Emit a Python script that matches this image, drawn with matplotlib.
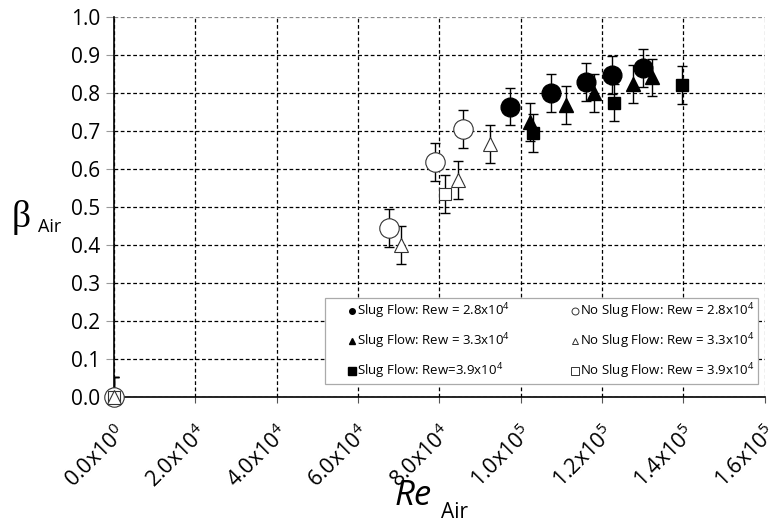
import matplotlib
matplotlib.use("Agg")
import matplotlib.pyplot as plt
from matplotlib.ticker import FixedLocator
from matplotlib.lines import Line2D

plt.rcParams['font.family'] = ['Open Sans', 'DejaVu Sans']
plt.rcParams['mathtext.fontset'] = 'custom'
plt.rcParams['mathtext.rm'] = 'Open Sans'
plt.rcParams['mathtext.it'] = 'Open Sans:italic'

# Slug flow series (filled markers)
slug28_x = [97400, 107400, 116000, 122500, 130200]
slug28_y = [0.763, 0.800, 0.827, 0.846, 0.864]
slug28_err = [0.049, 0.050, 0.050, 0.050, 0.050]

slug33_x = [102300, 111100, 118100, 127600, 132200]
slug33_y = [0.723, 0.767, 0.798, 0.823, 0.840]
slug33_err = [0.050, 0.050, 0.050, 0.050, 0.050]

slug39_x = [103000, 123000, 139600]
slug39_y = [0.694, 0.774, 0.820]
slug39_err = [0.050, 0.048, 0.050]

# No slug flow series (open markers)
noslug28_x = [0, 67650, 79000, 85800]
noslug28_y = [0.0, 0.444, 0.617, 0.704]
noslug28_lo = [0.0, 0.050, 0.050, 0.050]
noslug28_hi = [0.052, 0.050, 0.050, 0.050]

noslug33_x = [0, 70500, 84500, 92600]
noslug33_y = [0.0, 0.399, 0.570, 0.665]
noslug33_lo = [0.0, 0.050, 0.050, 0.050]
noslug33_hi = [0.052, 0.050, 0.050, 0.050]

noslug39_x = [0, 81400]
noslug39_y = [0.0, 0.533]
noslug39_lo = [0.0, 0.050]
noslug39_hi = [0.052, 0.050]

labels = [r'Slug Flow: Rew = 2.8x10$^{4}$', r'Slug Flow: Rew = 3.3x10$^{4}$',
          r'Slug Flow: Rew=3.9x10$^{4}$', r'No Slug Flow: Rew = 2.8x10$^{4}$',
          r'No Slug Flow: Rew = 3.3x10$^{4}$', r'No Slug Flow: Rew = 3.9x10$^{4}$']

x_ticks = [0, 20000, 40000, 60000, 80000, 100000, 120000, 140000, 160000]
x_tick_labels = [r'0.0x10$^{0}$', r'2.0x10$^{4}$', r'4.0x10$^{4}$', r'6.0x10$^{4}$',
                 r'8.0x10$^{4}$', r'1.0x10$^{5}$', r'1.2x10$^{5}$', r'1.4x10$^{5}$',
                 r'1.6x10$^{5}$']
y_ticks = [0.0, 0.1, 0.2, 0.3, 0.4, 0.5, 0.6, 0.7, 0.8, 0.9, 1.0]

fig = plt.figure(figsize=(7.69, 5.24), dpi=100)
ax = fig.add_axes([0.1482, 0.2431, 0.8460, 0.7250])

err_kw = dict(fmt='none', ecolor='black', elinewidth=1.0, capsize=3.5, capthick=1.0, zorder=3)
ax.errorbar(slug28_x, slug28_y, yerr=slug28_err, **err_kw)
ax.errorbar(slug33_x, slug33_y, yerr=slug33_err, **err_kw)
ax.errorbar(slug39_x, slug39_y, yerr=slug39_err, **err_kw)
ax.errorbar(noslug28_x, noslug28_y, yerr=[noslug28_lo, noslug28_hi], **err_kw)
ax.errorbar(noslug33_x, noslug33_y, yerr=[noslug33_lo, noslug33_hi], **err_kw)
ax.errorbar(noslug39_x, noslug39_y, yerr=[noslug39_lo, noslug39_hi], **err_kw)

open_kw = dict(ls='none', mfc='white', mec='#333333', mew=0.8, clip_on=False)
ax.plot(slug28_x, slug28_y, 'o', ms=13.5, color='black', zorder=4)
ax.plot(slug33_x, slug33_y, '^', ms=10, color='black', zorder=4)
ax.plot(slug39_x, slug39_y, 's', ms=9, color='black', zorder=4)
ax.plot(noslug28_x, noslug28_y, 'o', ms=14, zorder=4, **open_kw)
ax.plot(noslug33_x, noslug33_y, '^', ms=10, zorder=5, **open_kw)
ax.plot(noslug39_x, noslug39_y, 's', ms=9, zorder=4, **open_kw)

ax.set_xlim(0, 160000)
ax.set_ylim(0, 1.0)
ax.xaxis.set_major_locator(FixedLocator(x_ticks))
ax.yaxis.set_major_locator(FixedLocator(y_ticks))
ax.set_xticklabels(x_tick_labels, rotation=45, ha='right', rotation_mode='anchor', fontsize=15.5)
ax.set_yticklabels([f'{v:.1f}' for v in y_ticks], fontsize=15)
ax.tick_params(axis='y', length=6, color='#999999', pad=4)
ax.tick_params(axis='x', length=4, color='#555555', pad=14)

ax.grid(True, ls=(0, (3, 2)), color='black', lw=0.9)
ax.set_axisbelow(True)
ax.yaxis.get_gridlines()[-1].set_color('#888888')
ax.xaxis.get_gridlines()[-1].set_color('#888888')
for side in ['top', 'right']:
    ax.spines[side].set_visible(False)
for side in ['left', 'bottom']:
    ax.spines[side].set_linewidth(1.2)
    ax.spines[side].set_zorder(2)

# axis titles
fig.text(0.015, 0.585, 'β', fontsize=27, va='center', ha='left', family=['Liberation Serif'])
fig.text(0.049, 0.566, 'Air', fontsize=13, va='center', ha='left')
fig.text(0.513, 1 - 505 / 524, 'Re', fontsize=25, ha='left', va='baseline', style='italic')
fig.text(0.573, 1 - 518 / 524, 'Air', fontsize=15, ha='left', va='baseline')

# legend with small markers
proxies = [
    Line2D([], [], ls='none', marker='o', ms=4, color='black'),
    Line2D([], [], ls='none', marker='^', ms=5, color='black'),
    Line2D([], [], ls='none', marker='s', ms=5.5, color='black'),
    Line2D([], [], ls='none', marker='o', ms=5, mfc='white', mec='#333333', mew=0.7),
    Line2D([], [], ls='none', marker='^', ms=5, mfc='white', mec='#333333', mew=0.7),
    Line2D([], [], ls='none', marker='s', ms=5.5, mfc='white', mec='#333333', mew=0.7),
]
leg = ax.legend(proxies, labels, ncol=2, loc='lower left',
                bbox_to_anchor=(0.325, 0.032, 0.665, 0.227), mode='expand',
                fontsize=9.5, handlelength=3.5, handletextpad=-1.4,
                labelspacing=0.77, borderpad=0.27, borderaxespad=0, columnspacing=1.0,
                frameon=True, fancybox=False, framealpha=1, edgecolor='#aaaaaa')
leg.get_frame().set_linewidth(0.9)
leg.set_zorder(6)

fig.savefig('out.png', dpi=100)
